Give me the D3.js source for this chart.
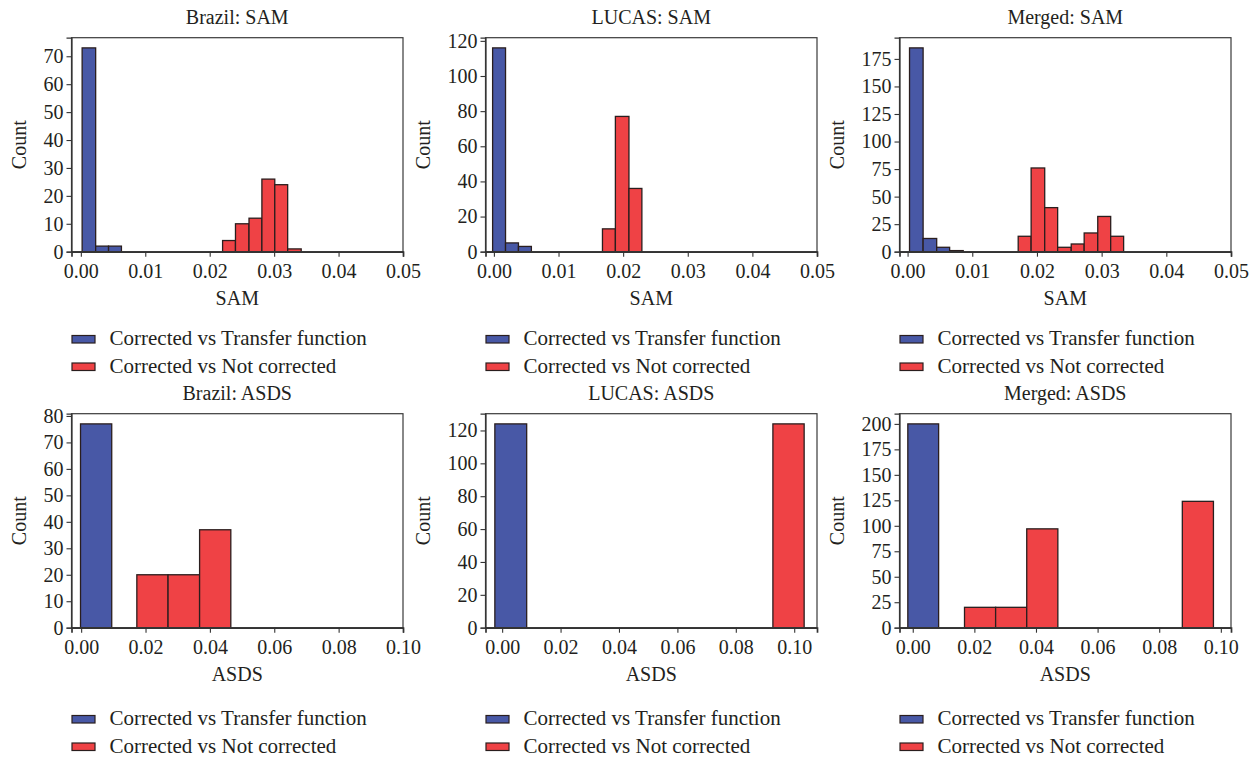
<!DOCTYPE html>
<html>
<head>
<meta charset="utf-8">
<script src="https://cdn.jsdelivr.net/npm/d3@7"></script>
<style>
  body { margin: 0; background: #fff; }
  text { font-family: "Liberation Serif", "DejaVu Serif", serif; fill: #231f20; }
</style>
</head>
<body>
<div id="chart"></div>
<script>
// titles / labels
const titles = ["Brazil: SAM", "LUCAS: SAM", "Merged: SAM", "Brazil: ASDS", "LUCAS: ASDS", "Merged: ASDS"];
const xLabels = ["SAM", "SAM", "SAM", "ASDS", "ASDS", "ASDS"];
const seriesNames = ["Corrected vs Transfer function", "Corrected vs Not corrected"];

// tick labels
const samTicks = [0, 0.01, 0.02, 0.03, 0.04, 0.05];
const asdsTicks = [0, 0.02, 0.04, 0.06, 0.08, 0.10];
const yTicksList = [
    [0, 10, 20, 30, 40, 50, 60, 70],
    [0, 20, 40, 60, 80, 100, 120],
    [0, 25, 50, 75, 100, 125, 150, 175],
    [0, 10, 20, 30, 40, 50, 60, 70, 80],
    [0, 20, 40, 60, 80, 100, 120],
    [0, 25, 50, 75, 100, 125, 150, 175, 200]
];

// x range of each panel
const xDomains = [
    [-0.00145, 0.05],
    [-0.0013, 0.05],
    [-0.00125, 0.05],
    [-0.003, 0.10],
    [-0.0057, 0.1078],
    [-0.0043, 0.1033]
];

// histograms: bin edges + counts
const brazilSamBlueEdges = [0.0002, 0.0023, 0.0043, 0.0063];
const brazilSamBlue = [73, 2, 2];
const brazilSamRedEdges = [0.0220, 0.0240, 0.0261, 0.0281, 0.0301, 0.0321, 0.0342];
const brazilSamRed = [4, 10, 12, 26, 24, 1];

const lucasSamBlueEdges = [-0.0002, 0.0018, 0.0038, 0.0058];
const lucasSamBlue = [116, 5, 3];
const lucasSamRedEdges = [0.0168, 0.0188, 0.0209, 0.0229];
const lucasSamRed = [13, 77, 36];

const mergedSamBlueEdges = [0.0003, 0.0024, 0.0045, 0.0065, 0.0086];
const mergedSamBlue = [185, 12, 4, 1];
const mergedSamRedEdges = [0.0171, 0.0191, 0.0212, 0.0232, 0.0253, 0.0273, 0.0294, 0.0314, 0.0334];
const mergedSamRed = [14, 76, 40, 4, 7, 17, 32, 14];

const brazilAsdsBlueEdges = [-0.0002, 0.0095];
const brazilAsdsBlue = [77];
const brazilAsdsRedEdges = [0.0173, 0.0270, 0.0368, 0.0465];
const brazilAsdsRed = [20, 20, 37];

const lucasAsdsBlueEdges = [-0.0025, 0.0084];
const lucasAsdsBlue = [124];
const lucasAsdsRedEdges = [0.0927, 0.1034];
const lucasAsdsRed = [124];

const mergedAsdsBlueEdges = [-0.0016, 0.0084];
const mergedAsdsBlue = [200];
const mergedAsdsRedEdges = [0.0168, 0.0269, 0.0370, 0.0471, 0.0572, 0.0673, 0.0774, 0.0875, 0.0976];
const mergedAsdsRed = [20, 20, 97, 0, 0, 0, 0, 124];

const blueColor = "#4858a6";
const redColor = "#ef4245";

const panels = [
    {blue: [brazilSamBlueEdges, brazilSamBlue], red: [brazilSamRedEdges, brazilSamRed], xt: samTicks},
    {blue: [lucasSamBlueEdges, lucasSamBlue], red: [lucasSamRedEdges, lucasSamRed], xt: samTicks},
    {blue: [mergedSamBlueEdges, mergedSamBlue], red: [mergedSamRedEdges, mergedSamRed], xt: samTicks},
    {blue: [brazilAsdsBlueEdges, brazilAsdsBlue], red: [brazilAsdsRedEdges, brazilAsdsRed], xt: asdsTicks},
    {blue: [lucasAsdsBlueEdges, lucasAsdsBlue], red: [lucasAsdsRedEdges, lucasAsdsRed], xt: asdsTicks},
    {blue: [mergedAsdsBlueEdges, mergedAsdsBlue], red: [mergedAsdsRedEdges, mergedAsdsRed], xt: asdsTicks}
];

const svg = d3.select("#chart")
    .append("svg")
    .attr("width", 1255)
    .attr("height", 758);

const colLeft = [71.5, 485.5, 899.5];
const rowTop = [37.7, 413.7];
const plotW = 331.5;
const plotH = 214;
const legendY = [345, 725];

function toBins(edges, counts) {
    let bins = [];
    for (let i = 0; i < counts.length; i++) {
        if (counts[i] > 0) {
            bins.push({x0: edges[i], x1: edges[i + 1], n: counts[i]});
        }
    }
    return bins;
}

panels.forEach((p, i) => {
    const col = i % 3;
    const row = Math.floor(i / 3);
    const left = colLeft[col];
    const top = rowTop[row];
    const g = svg.append("g").attr("transform", `translate(${left},${top})`);

    const ymax = Math.max(d3.max(p.blue[1]), d3.max(p.red[1])) * 1.05;
    const x = d3.scaleLinear().domain(xDomains[i]).range([0, plotW]);
    const y = d3.scaleLinear().domain([0, ymax]).range([plotH, 0]);

    // bars
    [[p.blue, blueColor], [p.red, redColor]].forEach(([s, color]) => {
        g.selectAll(null)
            .data(toBins(s[0], s[1]))
            .join("rect")
            .attr("x", d => x(d.x0))
            .attr("y", d => y(d.n))
            .attr("width", d => x(d.x1) - x(d.x0))
            .attr("height", d => y(0) - y(d.n))
            .attr("fill", color)
            .attr("stroke", "#2a1e1e")
            .attr("stroke-width", 1.3);
    });

    // frame
    g.append("rect")
        .attr("width", plotW)
        .attr("height", plotH)
        .attr("fill", "none")
        .attr("stroke", "#3a3a3a")
        .attr("stroke-width", 1.2);

    // axes
    const xAxis = g.append("g")
        .attr("transform", `translate(0,${plotH})`)
        .call(d3.axisBottom(x).tickValues(p.xt).tickFormat(d3.format(".2f")).tickSize(5).tickPadding(7));
    xAxis.select(".domain").attr("stroke", "#333").attr("stroke-width", 1.7);
    xAxis.selectAll(".tick line").attr("stroke", "#333").attr("stroke-width", 1.1);
    xAxis.selectAll("text").attr("font-size", 20).attr("font-family", null).attr("fill", null);

    const yAxis = g.append("g")
        .call(d3.axisLeft(y).tickValues(yTicksList[i]).tickSize(5).tickPadding(3));
    yAxis.select(".domain").attr("stroke", "#333").attr("stroke-width", 1.2);
    yAxis.selectAll(".tick line").attr("stroke", "#333").attr("stroke-width", 1.1);
    yAxis.selectAll("text").attr("font-size", 20).attr("font-family", null).attr("fill", null);

    let maxW = 0;
    yAxis.selectAll("text").each(function () {
        maxW = Math.max(maxW, this.getBBox().width);
    });

    // labels
    g.append("text")
        .attr("x", plotW / 2)
        .attr("y", -14)
        .attr("text-anchor", "middle")
        .attr("font-size", 20)
        .text(titles[i]);

    g.append("text")
        .attr("x", plotW / 2)
        .attr("y", plotH + 53.5)
        .attr("text-anchor", "middle")
        .attr("font-size", 20)
        .text(xLabels[i]);

    g.append("text")
        .attr("transform", `translate(${-(maxW + 26)},${plotH / 2}) rotate(-90)`)
        .attr("text-anchor", "middle")
        .attr("font-size", 20)
        .text("Count");

    // legend
    const lg = svg.append("g").attr("transform", `translate(${left},${legendY[row]})`);
    [blueColor, redColor].forEach((c, k) => {
        lg.append("rect")
            .attr("x", 0.5)
            .attr("y", k * 27.5 - 9.5)
            .attr("width", 23)
            .attr("height", 7.5)
            .attr("fill", c)
            .attr("stroke", "#2a1e1e")
            .attr("stroke-width", 1.2);
        lg.append("text")
            .attr("x", 38)
            .attr("y", k * 27.5)
            .attr("font-size", 21)
            .text(seriesNames[k]);
    });
});
</script>
</body>
</html>
